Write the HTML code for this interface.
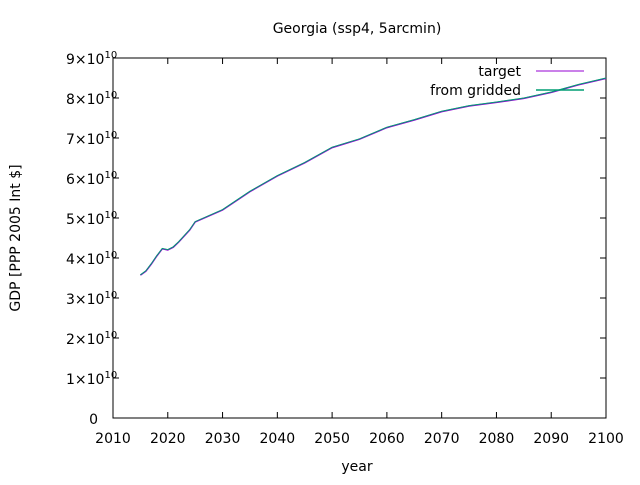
<!DOCTYPE html>
<html><head><meta charset="utf-8"><style>
body{margin:0;background:#fff}
svg{font-family:"DejaVu Sans","Liberation Sans",sans-serif;font-size:14px;fill:#000}
</style></head><body>
<svg id="chart" width="640" height="480" viewBox="0 0 640 480">
<text x="357" y="33" text-anchor="middle">Georgia (ssp4, 5arcmin)</text>
<rect x="113" y="58" width="493" height="360" fill="none" stroke="#000" stroke-width="1"/>
<g id="axes"></g>
<g id="series"></g>
<text x="357" y="471" text-anchor="middle">year</text>
<text transform="translate(20,238) rotate(-90)" text-anchor="middle">GDP [PPP 2005 Int $]</text>
<g>
<text x="521" y="76" text-anchor="end">target</text>
<line x1="536" y1="71" x2="584" y2="71" stroke="#9400d3" stroke-width="1"/>
<text x="521" y="95" text-anchor="end">from gridded</text>
<line x1="536" y1="90" x2="584" y2="90" stroke="#009e73" stroke-width="1.5"/>
</g>
</svg>
<script>
const years=[2015,2016,2017,2018,2019,2020,2021,2022,2023,2024,2025,2030,2035,2040,2045,2050,2055,2060,2065,2070,2075,2080,2085,2090,2095,2100];
const target=[3.57,3.67,3.85,4.05,4.23,4.2,4.27,4.4,4.55,4.7,4.9,5.2,5.66,6.05,6.38,6.76,6.97,7.26,7.45,7.66,7.8,7.89,7.99,8.14,8.33,8.49];
const gridded=[3.58,3.68,3.86,4.06,4.24,4.21,4.28,4.41,4.56,4.71,4.91,5.21,5.67,6.06,6.39,6.77,6.98,7.27,7.46,7.67,7.81,7.9,8.0,8.15,8.34,8.5];
const xTicks=[2010,2020,2030,2040,2050,2060,2070,2080,2090,2100];
const yTicks=[0,1,2,3,4,5,6,7,8,9];
const X0=113,X1=606,Y0=418,Y1=58;
const xs=v=>X0+(v-2010)/90*(X1-X0);
const ys=v=>Y0-v/9*(Y0-Y1);
const NS="http://www.w3.org/2000/svg";
const axes=document.getElementById('axes'),series=document.getElementById('series');
function mk(tag,attrs,parent){const e=document.createElementNS(NS,tag);for(const k in attrs)e.setAttribute(k,attrs[k]);parent.appendChild(e);return e;}
xTicks.forEach(t=>{const x=xs(t);
 const a=mk('line',{x1:x,y1:Y0,x2:x,y2:Y0-6,stroke:'#000'},axes);
 
 
 const b=mk('line',{x1:x,y1:Y1,x2:x,y2:Y1+6,stroke:'#000'},axes);
 
 
 const l=mk('text',{x:x,y:443,'text-anchor':'middle'},axes);l.textContent=t;
 
 
});
yTicks.forEach(t=>{const y=ys(t);
 const a=mk('line',{x1:X0,y1:y,x2:X0+6,y2:y,stroke:'#000'},axes);
 
 
 const b=mk('line',{x1:X1,y1:y,x2:X1-6,y2:y,stroke:'#000'},axes);
 
 
 const l=mk('text',{x:t===0?98:66,y:y+6,'text-anchor':t===0?'end':'start'},axes);
 
 
 if(t===0){l.textContent='0';}
 else{l.textContent=t+'×10';const s=mk('tspan',{dy:-6,'font-size':'10px'},l);s.textContent='10';}
});
function line(vals,color,w,name){
 const p=mk('polyline',{points:years.map((y,i)=>xs(y)+','+ys(vals[i])).join(' '),fill:'none',stroke:color,'stroke-width':w},series);
 
 
}
line(target,'#9400d3',1.5,'series-target');
line(gridded,'#009e73',1,'series-from-gridded');
</script>
</body></html>
